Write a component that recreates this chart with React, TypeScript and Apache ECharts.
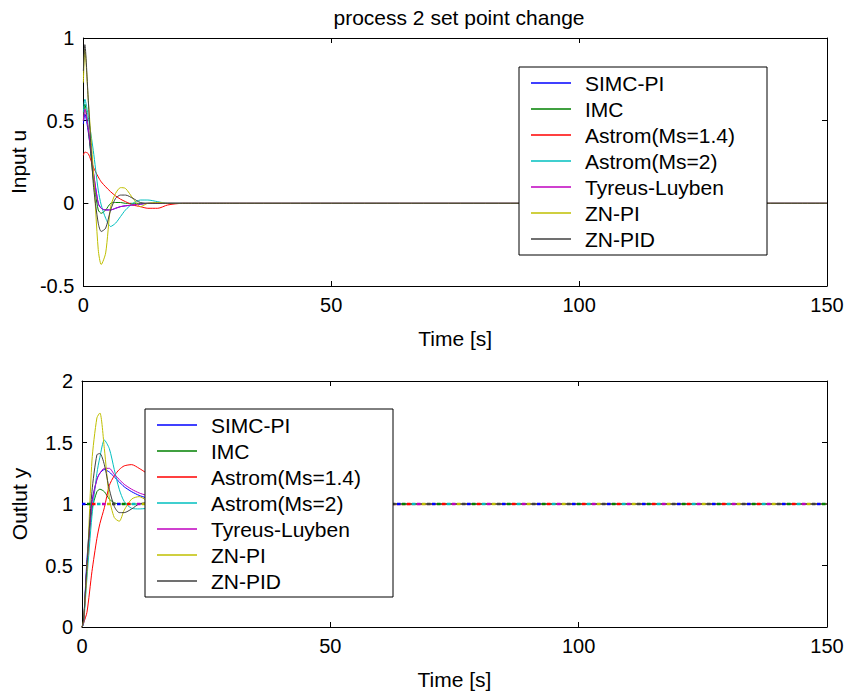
import React, { useEffect, useRef } from "react";
import * as echarts from "echarts";

// Shared time samples [s]
const time = [0, 0.3, 1, 2, 3, 3.6, 4.5, 5.5, 6.5, 7.5, 8.5, 10, 11.5, 13, 15, 17, 20, 25, 30, 150];

const seriesNames = ["SIMC-PI", "IMC", "Astrom(Ms=1.4)", "Astrom(Ms=2)", "Tyreus-Luyben", "ZN-PI", "ZN-PID"];
const seriesColors = ["#0000ff", "#008000", "#ff0000", "#00bfbf", "#bf00bf", "#bfbf00", "#404040"];

// Input u (top plot)
const simcU = [0.48, 0.54, 0.43, 0.19, 0.0, -0.03, -0.04, -0.04, -0.03, -0.02, -0.015, -0.01, -0.005, 0, 0, 0, 0, 0, 0, 0];
const imcU = [0.5, 0.6, 0.45, 0.15, -0.04, -0.06, -0.04, 0.0, 0.005, 0.005, 0, 0, 0, 0, 0, 0, 0, 0, 0, 0];
const astrom14U = [0.29, 0.31, 0.3, 0.22, 0.16, 0.13, 0.1, 0.07, 0.045, 0.025, 0.01, -0.01, -0.02, -0.03, -0.03, -0.01, 0, 0, 0, 0];
const astrom2U = [0.55, 0.63, 0.52, 0.32, 0.08, -0.01, -0.09, -0.14, -0.12, -0.08, -0.04, 0.0, 0.02, 0.02, 0.01, 0, 0, 0, 0, 0];
const tyreusU = [0.5, 0.57, 0.45, 0.2, 0.0, -0.03, -0.04, -0.04, -0.03, -0.02, -0.015, -0.01, -0.005, 0, 0, 0, 0, 0, 0, 0];
const znpiU = [0.73, 0.93, 0.62, 0.2, -0.28, -0.37, -0.3, -0.02, 0.06, 0.095, 0.09, 0.03, -0.02, 0.0, 0.005, 0, 0, 0, 0, 0];
const znpidU = [0.8, 0.96, 0.62, 0.12, -0.12, -0.17, -0.15, -0.04, 0.03, 0.05, 0.05, 0.03, 0.005, 0, 0, 0, 0, 0, 0, 0];

// Output y (bottom plot)
const simcY = [0, 0.03, 0.55, 1.02, 1.2, 1.25, 1.28, 1.26, 1.22, 1.18, 1.14, 1.1, 1.07, 1.05, 1.03, 1.02, 1.0, 1, 1, 1];
const imcY = [0, 0.03, 0.5, 0.95, 1.1, 1.12, 1.1, 1.04, 1.01, 1.0, 1, 1, 1, 1, 1, 1, 1, 1, 1, 1];
const astrom14Y = [0, 0.03, 0.12, 0.45, 0.72, 0.84, 0.97, 1.15, 1.23, 1.28, 1.31, 1.32, 1.29, 1.25, 1.18, 1.1, 1.02, 0.97, 0.99, 1];
const astrom2Y = [0, 0.02, 0.4, 0.9, 1.25, 1.38, 1.52, 1.45, 1.28, 1.12, 1.02, 0.965, 0.96, 0.965, 0.99, 1.01, 1.0, 1, 1, 1];
const tyreusY = [0, 0.03, 0.5, 1.0, 1.2, 1.25, 1.29, 1.29, 1.24, 1.2, 1.16, 1.12, 1.09, 1.07, 1.05, 1.03, 1.01, 1.0, 1, 1];
const znpiY = [0, 0.05, 0.45, 1.35, 1.7, 1.74, 1.45, 1.05, 0.89, 0.86, 0.95, 1.04, 1.06, 1.03, 0.99, 0.99, 1, 1, 1, 1];
const znpidY = [0, 0.05, 0.5, 1.1, 1.4, 1.41, 1.32, 1.12, 0.98, 0.93, 0.93, 0.96, 1.0, 1.01, 1.0, 1, 1, 1, 1, 1];

// Set point (dotted)
const setpointT = [0, 150];
const setpointY = [1, 1];

const uData = [simcU, imcU, astrom14U, astrom2U, tyreusU, znpiU, znpidU];
const yData = [simcY, imcY, astrom14Y, astrom2Y, tyreusY, znpiY, znpidY];

const xTicks = [0, 50, 100, 150];

const FONT = "'Liberation Sans', Arial, sans-serif";

function pairs(xs: number[], ys: number[]) {
  return xs.map((x, i) => [x, ys[i]]);
}

export default function App() {
  const ref = useRef<HTMLDivElement>(null);

  useEffect(() => {
    if (!ref.current) return;
    const chart = echarts.init(ref.current, null, { renderer: "svg" });

    const axisLine = { show: true, onZero: false, lineStyle: { color: "#000", width: 1 } };
    const tick = { show: true, inside: true, length: 5, lineStyle: { color: "#000" } };
    const label = { color: "#000", fontSize: 20, fontFamily: FONT, margin: 9 };
    const nameStyle = { color: "#000", fontSize: 21, fontFamily: FONT };

    const mkX = (gridIndex: number, top: boolean) => ({
      type: "value" as const,
      gridIndex,
      position: top ? "top" : "bottom",
      min: xTicks[0],
      max: xTicks[xTicks.length - 1],
      interval: 50,
      axisLine,
      axisTick: tick,
      axisLabel: { ...label, show: !top },
      splitLine: { show: false },
      name: top ? "" : "Time [s]",
      nameLocation: "middle" as const,
      nameGap: 42,
      nameTextStyle: nameStyle,
    });
    const mkY = (gridIndex: number, right: boolean, min: number, max: number, name: string) => ({
      type: "value" as const,
      gridIndex,
      position: right ? "right" : "left",
      min,
      max,
      interval: 0.5,
      axisLine,
      axisTick: tick,
      axisLabel: { ...label, show: !right },
      splitLine: { show: false },
      name: right ? "" : name,
      nameLocation: "middle" as const,
      nameGap: 52,
      nameTextStyle: nameStyle,
    });

    const series: any[] = [];
    seriesNames.forEach((name, i) => {
      series.push({
        type: "line",
        name,
        xAxisIndex: 0,
        yAxisIndex: 0,
        data: pairs(time, uData[i]),
        symbol: "none",
        smooth: 0.25,
        lineStyle: { color: seriesColors[i], width: 1 },
        itemStyle: { color: seriesColors[i] },
        z: 2,
      });
    });
    seriesNames.forEach((name, i) => {
      series.push({
        type: "line",
        name,
        xAxisIndex: 2,
        yAxisIndex: 2,
        data: pairs(time, yData[i]),
        symbol: "none",
        smooth: 0.25,
        lineStyle: { color: seriesColors[i], width: 1 },
        itemStyle: { color: seriesColors[i] },
        z: 2,
      });
    });
    seriesNames.forEach((name, i) => {
      series.push({
        type: "line",
        name: name + " set point",
        xAxisIndex: 2,
        yAxisIndex: 2,
        data: pairs(setpointT, setpointY),
        symbol: "none",
        lineStyle: {
          color: seriesColors[i],
          width: 2.5,
          type: [3.5, 31.5],
          dashOffset: 35 - 5 * i,
        },
        z: 3,
      });
    });

    const legendBase = {
      data: seriesNames,
      orient: "vertical" as const,
      icon: "rect",
      itemWidth: 40,
      itemHeight: 1.5,
      itemGap: 0,
      padding: [3, 17, 3, 12],
      backgroundColor: "#fff",
      borderColor: "#000",
      borderWidth: 1,
      borderRadius: 0,
      selectedMode: false,
      z: 10,
      textStyle: {
        color: "#000",
        fontSize: 21,
        fontFamily: FONT,
        lineHeight: 26,
        width: 165,
        padding: [0, 0, 0, 9],
      },
    };

    chart.setOption({
      animation: false,
      backgroundColor: "#fff",
      title: {
        text: "process 2 set point change",
        left: 454,
        textAlign: "center",
        top: 2,
        textStyle: { color: "#000", fontSize: 21, fontWeight: "normal", fontFamily: FONT },
      },
      grid: [
        { left: 82, top: 38, width: 745, height: 248 },
        { left: 82, top: 381, width: 745, height: 246 },
      ],
      xAxis: [mkX(0, false), mkX(0, true), mkX(1, false), mkX(1, true)],
      yAxis: [
        mkY(0, false, -0.5, 1, "Input u"),
        mkY(0, true, -0.5, 1, ""),
        mkY(1, false, 0, 2, "Outlut y"),
        mkY(1, true, 0, 2, ""),
      ],
      legend: [
        { ...legendBase, left: 519, top: 67 },
        { ...legendBase, left: 145, top: 409 },
      ],
      series,
    });

    return () => chart.dispose();
  }, []);

  return (
    <div
      ref={ref}
      style={{ position: "fixed", left: 0, top: 0, width: 851, height: 694, background: "#fff" }}
    />
  );
}
